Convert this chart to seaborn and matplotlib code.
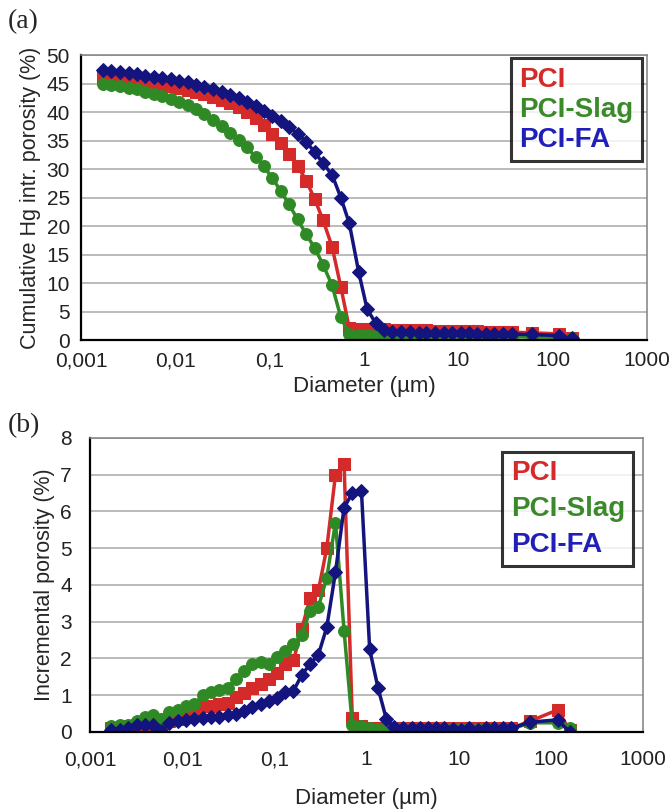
import numpy as np
import pandas as pd
import matplotlib
matplotlib.use("Agg")
import matplotlib.pyplot as plt
import seaborn as sns
from matplotlib.lines import Line2D
from matplotlib.ticker import FixedLocator, FixedFormatter, NullLocator

# ------------------------------------------------------------
# Data
# ------------------------------------------------------------

diameter = [0.0017, 0.0021, 0.0026, 0.0032, 0.0039, 0.0048, 0.0059, 0.0072, 0.0089, 0.011,
            0.0135, 0.0166, 0.0204, 0.025, 0.031, 0.038, 0.047, 0.057, 0.071, 0.087,
            0.107, 0.131, 0.161, 0.198, 0.244, 0.30, 0.37, 0.46, 0.57, 0.70,
            0.88, 1.08, 1.33, 1.64, 2.0, 2.5, 3.1, 3.8, 4.6, 5.7,
            7.0, 8.6, 10.6, 13.0, 16.0, 19.7, 24.2, 30.0, 37.0, 60.0,
            118.0, 160.0]

series_names = ["PCI", "PCI-Slag", "PCI-FA"]

cum_pci = [46.2, 46.0, 45.8, 45.6, 45.4, 45.2, 45.0, 44.8, 44.5, 44.2,
           43.9, 43.5, 43.1, 42.6, 42.1, 41.6, 40.9, 40.1, 38.9, 37.7,
           36.2, 34.6, 32.7, 30.6, 28.0, 24.8, 21.0, 16.4, 9.3, 2.1,
           2.0, 1.95, 1.9, 1.9, 1.85, 1.8, 1.8, 1.75, 1.75, 1.7,
           1.7, 1.65, 1.6, 1.6, 1.55, 1.5, 1.5, 1.45, 1.4, 1.3,
           1.1, 0.4]
cum_slag = [45.0, 44.8, 44.6, 44.3, 44.0, 43.6, 43.2, 42.8, 42.3, 41.8,
            41.2, 40.5, 39.6, 38.6, 37.6, 36.4, 35.1, 33.8, 32.2, 30.5,
            28.4, 26.2, 23.8, 21.2, 18.6, 16.2, 13.2, 9.6, 4.0, 1.0,
            0.9, 0.9, 0.85, 0.85, 0.8, 0.8, 0.8, 0.75, 0.75, 0.75,
            0.7, 0.7, 0.7, 0.65, 0.65, 0.65, 0.6, 0.6, 0.6, 0.55,
            0.5, 0.3]
cum_fa = [47.4, 47.2, 47.0, 46.8, 46.6, 46.4, 46.2, 46.0, 45.8, 45.5,
          45.2, 44.8, 44.4, 44.0, 43.5, 43.0, 42.4, 41.8, 41.0, 40.2,
          39.4, 38.5, 37.4, 36.2, 34.8, 33.0, 31.0, 29.0, 25.0, 20.5,
          12.0, 5.5, 3.0, 1.8, 1.5, 1.45, 1.4, 1.35, 1.3, 1.3,
          1.25, 1.25, 1.2, 1.2, 1.15, 1.15, 1.1, 1.1, 1.05, 1.0,
          0.8, 0.3]

inc_pci = [0.1, 0.1, 0.15, 0.2, 0.2, 0.1, 0.05, 0.3, 0.35, 0.4,
           0.45, 0.7, 0.72, 0.75, 0.8, 0.95, 1.05, 1.2, 1.3, 1.45,
           1.6, 1.85, 1.95, 2.8, 3.65, 3.85, 5.0, 7.0, 7.3, 0.37,
           0.15, 0.1, 0.1, 0.1, 0.1, 0.1, 0.1, 0.1, 0.1, 0.1,
           0.1, 0.1, 0.1, 0.1, 0.1, 0.1, 0.1, 0.1, 0.1, 0.3,
           0.6, 0.05]
inc_slag = [0.15, 0.2, 0.2, 0.3, 0.4, 0.45, 0.35, 0.55, 0.6, 0.7,
            0.75, 1.0, 1.1, 1.15, 1.2, 1.45, 1.65, 1.85, 1.9, 1.85,
            2.05, 2.2, 2.4, 2.65, 3.3, 3.4, 4.2, 5.7, 2.75, 0.2,
            0.15, 0.1, 0.08, 0.08, 0.08, 0.08, 0.08, 0.08, 0.08, 0.08,
            0.08, 0.08, 0.08, 0.08, 0.08, 0.08, 0.08, 0.08, 0.08, 0.25,
            0.25, 0.1]
inc_fa = [0.05, 0.05, 0.1, 0.2, 0.2, 0.2, 0.02, 0.25, 0.3, 0.33,
          0.35, 0.38, 0.4, 0.4, 0.45, 0.5, 0.58, 0.68, 0.76, 0.85,
          0.92, 1.1, 1.12, 1.55, 1.85, 2.1, 2.85, 4.35, 6.1, 6.5,
          6.55, 2.25, 1.2, 0.35, 0.13, 0.1, 0.1, 0.1, 0.1, 0.1,
          0.1, 0.08, 0.05, 0.1, 0.05, 0.1, 0.1, 0.1, 0.1, 0.27,
          0.33, 0.0]

x_ticks = [0.001, 0.01, 0.1, 1, 10, 100, 1000]
x_tick_labels = ["0,001", "0,01", "0,1", "1", "10", "100", "1000"]

# ------------------------------------------------------------
# Style
# ------------------------------------------------------------

sns.set_style("white")
plt.rcParams["font.family"] = ["Liberation Sans", "DejaVu Sans"]

line_colors = ["#d42a2a", "#2f8a25", "#14147e"]
text_colors = ["#d42a2a", "#3a8a2a", "#2020b8"]
markers = ["s", "o", "D"]
marker_sizes = [8, 8.5, 7.5]

fig = plt.figure(figsize=(6.72, 8.10), dpi=100)
ax_a = fig.add_axes([0.1205, 0.580, 0.842, 0.352])
ax_b = fig.add_axes([0.134, 0.0963, 0.823, 0.363])


def draw_panel(ax, values, ymax, ystep, ylabel, legend_box, tick_pad, xlabel_pad, leg_spacing):
    for name, vals, col, mk, ms in zip(series_names, values, line_colors, markers, marker_sizes):
        df = pd.DataFrame({"Diameter": diameter, "Value": vals})
        sns.lineplot(data=df, x="Diameter", y="Value", ax=ax, color=col,
                     marker=mk, markersize=ms, markeredgecolor=col,
                     linewidth=2.5, sort=False, estimator=None, label=name)

    ax.set_xscale("log")
    ax.set_xlim(0.001, 1000)
    ax.set_ylim(0, ymax)
    ax.xaxis.set_major_locator(FixedLocator(x_ticks))
    ax.xaxis.set_major_formatter(FixedFormatter(x_tick_labels))
    ax.xaxis.set_minor_locator(NullLocator())
    ax.set_yticks(np.arange(0, ymax + 0.001, ystep))

    ax.grid(axis="y", color="#a8a8a8", linewidth=1.1)
    ax.grid(axis="x", visible=False)
    ax.set_axisbelow(True)

    for side in ["left", "bottom"]:
        ax.spines[side].set_color("black")
        ax.spines[side].set_linewidth(1.6)
    for side in ["top", "right"]:
        ax.spines[side].set_color("#808080")
        ax.spines[side].set_linewidth(1.1)

    ax.tick_params(axis="both", direction="out", length=5, width=1.4,
                   colors="black", labelsize=15, pad=tick_pad)
    ax.tick_params(axis="both", labelcolor="#222222")
    ax.set_xlabel("Diameter (\u00b5m)", fontsize=16, labelpad=xlabel_pad)
    ax.set_ylabel(ylabel, fontsize=15.5, labelpad=4)

    handles = [Line2D([], [], linestyle="none") for _ in series_names]
    leg = ax.legend(handles, series_names, loc="upper right",
                    bbox_to_anchor=legend_box, borderaxespad=0,
                    handlelength=0, handletextpad=0,
                    frameon=True, fancybox=False, borderpad=0.3,
                    labelspacing=leg_spacing, prop={"weight": "bold", "size": 20})
    leg.get_frame().set_edgecolor("black")
    leg.get_frame().set_linewidth(2.2)
    for txt, col in zip(leg.get_texts(), text_colors):
        txt.set_color(col)


draw_panel(ax_a, [cum_pci, cum_slag, cum_fa], 50, 5,
           "Cumulative Hg intr. porosity (%)", (0.991, 0.989), 3, 4, 0.15)
draw_panel(ax_b, [inc_pci, inc_slag, inc_fa], 8, 1,
           "Incremental porosity (%)", (0.982, 0.952), 8, 14, 0.35)

fig.text(0.012, 0.965, "(a)", family="Liberation Serif", fontsize=20)
fig.text(0.012, 0.466, "(b)", family="Liberation Serif", fontsize=20)

fig.savefig("out.png", dpi=100)
